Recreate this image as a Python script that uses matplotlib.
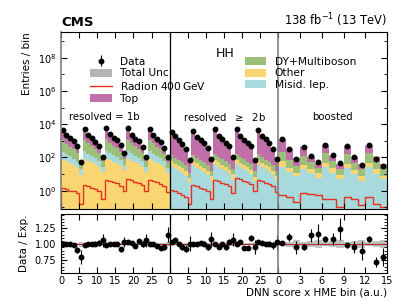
import numpy as np
import matplotlib

matplotlib.use("Agg")
import matplotlib.pyplot as plt
from matplotlib.patches import Patch
from matplotlib.lines import Line2D
from matplotlib.ticker import FixedLocator, NullFormatter, NullLocator


# ---- yields per category (resolved = 1b: 30 bins, resolved >= 2b: 30 bins, boosted: 15 bins)
top_1b = [3730, 1560, 968, 693, 384, 26, 4098, 1521, 947, 585, 323, 41,
          4796, 1743, 1082, 769, 425, 92, 4438, 1501, 940, 573, 268, 40,
          3895, 1535, 818, 580, 230, 37]
dy_1b = [845, 520, 325, 220, 124, 26, 910, 546, 338, 215, 117, 33,
         975, 585, 364, 247, 137, 52, 936, 559, 345, 221, 117, 33,
         884, 533, 319, 221, 111, 29]
other_1b = [72, 58, 45, 36, 23, 9, 81, 63, 50, 40, 27, 13,
            90, 68, 54, 45, 31, 16, 86, 65, 50, 40, 27, 13,
            81, 61, 47, 38, 25, 11]
misid_1b = [143, 104, 72, 49, 31, 10, 156, 110, 78, 52, 34, 13,
            169, 117, 85, 59, 39, 18, 163, 114, 78, 55, 35, 14,
            150, 107, 74, 52, 33, 12]
radion_1b = [1.4, 1.2, 1.0, 0.9, 0.7, 0.15, 2.2, 1.8, 1.5, 1.3, 1.0, 0.3,
             4.5, 3.8, 3.2, 2.8, 2.0, 0.9, 5.0, 4.2, 3.5, 3.0, 2.2, 1.0,
             4.5, 3.8, 3.2, 2.6, 2.0, 0.8]

top_2b = [3410, 1690, 1050, 660, 320, 59, 3840, 1680, 1050, 655, 365, 64,
          4850, 1880, 1180, 735, 405, 81, 5080, 1890, 1180, 737, 410, 64,
          4310, 1890, 1185, 653, 320, 64]
dy_2b = [75, 50, 38, 28, 18, 6, 80, 52, 40, 30, 20, 7,
         90, 60, 45, 32, 22, 9, 92, 58, 44, 32, 21, 8,
         85, 55, 42, 30, 19, 7]
other_2b = [30, 20, 14, 10, 7, 3, 28, 22, 12, 11, 6, 4,
            35, 24, 15, 12, 8, 5, 32, 20, 16, 10, 7, 3,
            30, 22, 14, 11, 6, 4]
misid_2b = [32, 22, 16, 12, 8, 3, 35, 24, 18, 13, 9, 4,
            40, 28, 20, 15, 10, 5, 42, 28, 21, 15, 10, 4,
            38, 26, 19, 14, 9, 4]
radion_2b = [1.1, 0.9, 0.7, 0.55, 0.4, 0.15, 2.2, 1.8, 1.4, 1.2, 0.9, 0.3,
             4.4, 3.6, 3.0, 2.5, 1.9, 0.7, 5.9, 4.8, 4.0, 3.2, 2.5, 0.9,
             4.5, 3.8, 3.1, 2.6, 2.0, 0.8]

top_bst = [1010, 234, 57, 320, 61, 22, 350, 69, 19, 340, 58, 19, 335, 59, 20]
dy_bst = [162, 49, 20, 90, 30, 11, 150, 40, 12, 120, 30, 12, 140, 35, 12]
other_bst = [34, 8, 4, 15, 8, 5, 20, 10, 4, 18, 8, 4, 20, 9, 3]
misid_bst = [28, 14, 8, 20, 12, 6, 25, 12, 5, 22, 10, 4, 25, 10, 5]
radion_bst = [0.55, 0.44, 0.22, 0.69, 0.63, 0.55, 0.32, 0.32, 0.11,
              0.40, 0.32, 0.13, 0.40, 0.16, 0.11]

# data / expectation
ratio_1b = [1.01, 1.01, 1.00, 0.98, 0.91, 0.80, 0.99, 1.00, 1.01, 1.01, 1.02, 1.06,
            0.99, 1.00, 1.01, 1.00, 0.92, 1.04, 1.04, 1.02, 0.97, 1.05, 1.00, 1.06,
            1.01, 1.01, 0.97, 0.94, 0.96, 1.15]
ratio_2b = [1.03, 1.06, 1.00, 0.95, 0.93, 1.01, 1.00, 1.01, 1.02, 1.01, 0.95, 1.08,
            1.00, 0.95, 1.00, 0.95, 1.04, 1.07, 1.00, 1.03, 0.94, 0.94, 1.10, 0.95,
            1.03, 1.02, 1.00, 1.01, 0.98, 1.03]
ratio_bst = [1.02, 1.11, 0.95, 0.96, 1.14, 1.16, 1.08, 1.08, 1.24, 0.98, 0.96, 0.90,
             1.08, 0.72, 0.80]

# relative total uncertainty
unc_1b = [0.010, 0.012, 0.014, 0.016, 0.020, 0.040, 0.010, 0.012, 0.013, 0.016, 0.020, 0.035,
          0.010, 0.011, 0.013, 0.015, 0.018, 0.030, 0.010, 0.012, 0.013, 0.016, 0.020, 0.035,
          0.010, 0.012, 0.014, 0.016, 0.021, 0.035]
unc_2b = [0.012, 0.014, 0.016, 0.018, 0.022, 0.040, 0.012, 0.014, 0.015, 0.018, 0.022, 0.038,
          0.011, 0.013, 0.015, 0.017, 0.020, 0.035, 0.011, 0.013, 0.015, 0.017, 0.020, 0.036,
          0.012, 0.013, 0.015, 0.018, 0.022, 0.038]
unc_bst = [0.030, 0.040, 0.060, 0.035, 0.050, 0.060, 0.035, 0.045, 0.060, 0.035, 0.045, 0.060,
           0.035, 0.045, 0.060]

region_labels = ["resolved = 1b", r"resolved  $\geq$  2b", "boosted"]
tick_pos = [0, 5, 10, 15, 20, 25, 30, 35, 40, 45, 50, 55, 60, 66, 72, 78, 84, 90]
tick_labels = ["0", "5", "10", "15", "20", "25", "0", "5", "10", "15", "20", "25",
               "0", "3", "6", "9", "12", "15"]

COLORS = {
    "Top": "#c06fa8",
    "DY+Multiboson": "#9cbf7a",
    "Other": "#f9d672",
    "Misid. lep.": "#a8d9dc",
}
RADION_COLOR = "#e4321f"
UNC_COLOR = "#9a9a9a"

# boosted bins are drawn twice as wide so the three categories share the axis evenly
edges = np.concatenate([np.arange(0, 60), 60 + 2 * np.arange(0, 16)]).astype(float)
centers = 0.5 * (edges[:-1] + edges[1:])

procs = {
    "Top": np.array(top_1b + top_2b + top_bst, dtype=float),
    "DY+Multiboson": np.array(dy_1b + dy_2b + dy_bst, dtype=float),
    "Other": np.array(other_1b + other_2b + other_bst, dtype=float),
    "Misid. lep.": np.array(misid_1b + misid_2b + misid_bst, dtype=float),
}
radion = np.array(radion_1b + radion_2b + radion_bst)
ratio = np.array(ratio_1b + ratio_2b + ratio_bst)
unc = np.array(unc_1b + unc_2b + unc_bst)
total = sum(procs.values())
data = total * ratio
ratio_err = np.sqrt(data) / total

plt.rcParams["font.family"] = "DejaVu Sans"
fig = plt.figure(figsize=(4.07, 3.05), dpi=100)
ax = fig.add_axes([0.150, 0.315, 0.801, 0.580])
rax = fig.add_axes([0.150, 0.105, 0.801, 0.193])

# stacks: ordering differs between the categories
stack_order = [
    (0, 30, ["Other", "Misid. lep.", "DY+Multiboson", "Top"]),
    (30, 60, ["Misid. lep.", "Other", "DY+Multiboson", "Top"]),
    (60, 75, ["Misid. lep.", "Other", "DY+Multiboson", "Top"]),
]
for lo, hi, order in stack_order:
    base = np.full(hi - lo, 1e-3)
    for name in order:
        upper = base + procs[name][lo:hi]
        ax.stairs(upper, edges[lo:hi + 1], baseline=base, fill=True,
                  color=COLORS[name], lw=0)
        base = upper

ax.stairs(total * (1 + unc), edges, baseline=total * (1 - unc), fill=True,
          color=UNC_COLOR, alpha=0.6, lw=0)
ax.stairs(radion, edges, color=RADION_COLOR, lw=1.0)
ax.errorbar(centers, data, yerr=np.sqrt(data), fmt="o", color="k", ms=3.2,
            elinewidth=0.8, capsize=0)

ax.axvline(30, color="k", lw=0.9)
ax.axvline(60, color="grey", lw=1.2)
ax.set_yscale("log")
ax.set_ylim(0.08, 3.6e9)
ax.set_xlim(0, 90)
ax.set_yticks([1e0, 1e2, 1e4, 1e6, 1e8])
ax.yaxis.set_minor_locator(FixedLocator([1e-1, 1e1, 1e3, 1e5, 1e7, 1e9]))
ax.yaxis.set_minor_formatter(NullFormatter())
ax.set_ylabel("Entries / bin", loc="top", fontsize=7.5)
ax.spines["left"].set_color("grey")
ax.spines["left"].set_linewidth(1.2)

for xc, label in zip([12, 45, 75], region_labels):
    ax.text(xc, 2.8e4, label, ha="center", va="center", fontsize=7.3)

ax.text(0.503, 0.88, "HH", transform=ax.transAxes, ha="center", va="center", fontsize=9)
ax.text(0.0, 1.015, "CMS", transform=ax.transAxes, ha="left", va="bottom",
        fontsize=9.5, fontweight="bold")
ax.text(1.0, 1.015, r"138 fb$^{-1}$ (13 TeV)", transform=ax.transAxes, ha="right",
        va="bottom", fontsize=8.3)

handles = [
    ax.errorbar([], [], yerr=[], fmt="o", color="k", ms=3.2, elinewidth=0.8),
    Patch(facecolor="#b4b4b4", edgecolor="none"),
    Line2D([], [], color=RADION_COLOR, lw=1.0),
    Patch(facecolor=COLORS["Top"]),
    Patch(facecolor=COLORS["DY+Multiboson"]),
    Patch(facecolor=COLORS["Other"]),
    Patch(facecolor=COLORS["Misid. lep."]),
]
labels = ["Data", "Total Unc.", r"Radion 400$\,$GeV", "Top",
          "DY+Multiboson", "Other", "Misid. lep."]
ax.legend(handles, labels, ncol=2, loc="upper left", bbox_to_anchor=(0.06, 0.915),
          frameon=False, fontsize=7.7, handlelength=2.0, handleheight=0.8,
          labelspacing=0.16, columnspacing=3.6, handletextpad=0.8)

# ratio panel
rax.stairs(1 + unc, edges, baseline=1 - unc, fill=True, color=UNC_COLOR, alpha=0.6, lw=0)
rax.axhline(1.0, color="#b0301f", lw=0.8)
rax.errorbar(centers, ratio, yerr=ratio_err, fmt="o", color="k", ms=3.2,
             elinewidth=0.8, capsize=0)
rax.axvline(30, color="k", lw=0.9)
rax.axvline(60, color="grey", lw=1.2)
rax.set_xlim(0, 90)
rax.set_ylim(0.55, 1.47)
rax.set_yticks([0.75, 1.0, 1.25])
rax.set_yticklabels(["0.75", "1.00", "1.25"])
rax.yaxis.set_minor_locator(FixedLocator(np.arange(0.6, 1.46, 0.05)))
rax.set_ylabel("Data / Exp.", fontsize=7.5)
rax.set_xlabel("DNN score x HME bin (a.u.)", loc="right", fontsize=7.5, labelpad=1)

for a in (ax, rax):
    a.set_xticks(tick_pos)
    a.xaxis.set_minor_locator(NullLocator())
    a.tick_params(which="both", direction="in", top=True, right=True, labelsize=7)
    a.tick_params(which="major", length=4)
    a.tick_params(which="minor", length=2)
ax.set_xticklabels([])
rax.set_xticklabels(tick_labels)
rax.tick_params(axis="x", pad=2)

fig.savefig("out.png", dpi=100)
plt.close(fig)
